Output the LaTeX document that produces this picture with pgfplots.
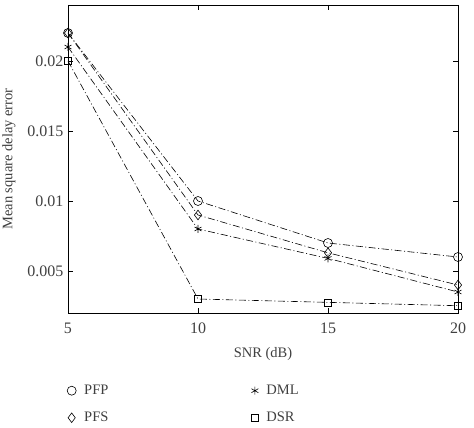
\documentclass[border=0pt]{standalone}
\usepackage{fontspec}
\setmainfont{Liberation Serif}
\usepackage{pgfplots}
\pgfplotsset{compat=1.18}
\begin{document}
\begin{tikzpicture}[x=1pt,y=1pt]
\useasboundingbox (-68,-115) rectangle (406,313);
\begin{axis}[at={(0,0)},anchor=south west, scale only axis,
  width=390pt, height=308pt,
  xmin=5,xmax=20,ymin=0.002,ymax=0.024,
  xtick={5,10,15,20},
  ytick={0.005,0.01,0.015,0.02},
  yticklabels={0.005,0.01,0.015,0.02},
  scaled y ticks=false,
  tick align=inside, tick pos=both, major tick length=5pt,
  axis line style={line width=0.8pt}, tick style={line width=0.6pt,black},
  /pgf/number format/assume math mode=true,
  font=\fontsize{14}{16}\selectfont,
  yticklabel style={font=\fontsize{16}{18}\selectfont, text=black!75, xshift=-1pt},
  xticklabel style={font=\fontsize{16}{18}\selectfont, text=black!75, yshift=-6pt},
  label style={font=\fontsize{14.5}{16}\selectfont, text=black!75},
  xlabel={SNR (dB)}, ylabel={Mean square delay error},
  xlabel style={yshift=-7pt},
  ylabel style={yshift=5pt},
  legend image code/.code={\draw[#1] plot[only marks] coordinates {(0pt,0pt)};},
  legend style={at={(axis description cs:0,0)}, anchor=north west, yshift=-68pt, xshift=-4pt,
    draw=none, fill=none, legend columns=2, font=\fontsize{14.5}{16}\selectfont, text=black!75,
    /tikz/every odd column/.append style={column sep=6pt},
    /tikz/every even column/.append style={column sep=141pt}, row sep=12pt},
  transpose legend,
  legend cell align=left,
]
\pgfplotsset{myline/.style={black, line width=0.6pt, dash pattern=on 7pt off 2.5pt on 1pt off 2.5pt, mark options={solid, fill=white, line width=0.6pt}}}
\addplot[myline, mark=o, mark size=4.5pt] coordinates {(5,0.022) (10,0.010) (15,0.0070) (20,0.0060)};
\addlegendentry{PFP}
\addplot[myline, mark=diamond, mark size=4.8pt] coordinates {(5,0.022) (10,0.0090) (15,0.0063) (20,0.0040)};
\addlegendentry{PFS}
\addplot[myline, mark=asterisk, mark size=4pt] coordinates {(5,0.021) (10,0.0080) (15,0.0059) (20,0.0035)};
\addlegendentry{DML}
\addplot[myline, mark=square, mark size=3.5pt] coordinates {(5,0.020) (10,0.0030) (15,0.00276) (20,0.00252)};
\addlegendentry{DSR}
\end{axis}
\end{tikzpicture}
\end{document}
